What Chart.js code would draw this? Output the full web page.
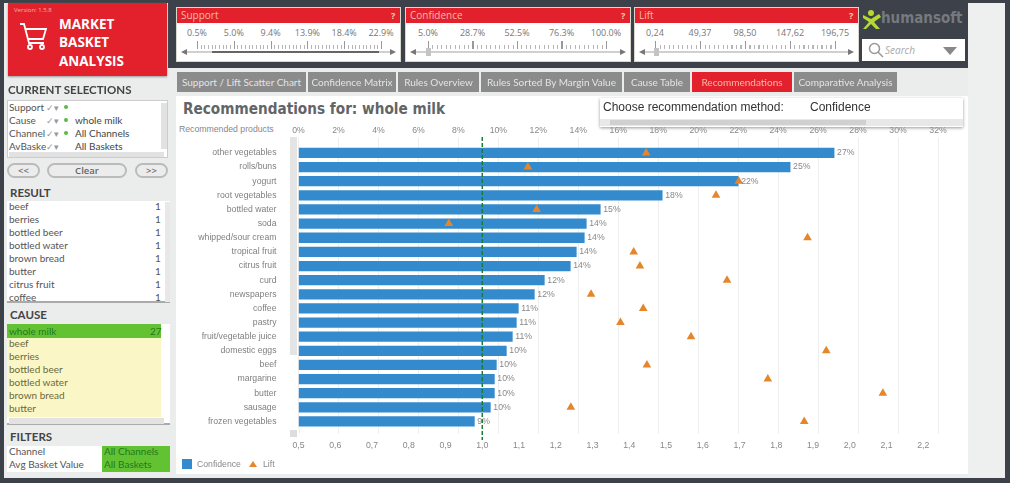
<!DOCTYPE html>
<html>
<head>
<meta charset="utf-8">
<title>Market Basket Analysis</title>
<script src="https://cdn.jsdelivr.net/npm/chart.js@4"></script>
<style>
  html, body { margin: 0; padding: 0; width: 1010px; height: 483px; overflow: hidden; background: #3d4149; }
  body { font-family: "Open Sans", sans-serif; color: #555; position: relative; }
  .a { position: absolute; white-space: nowrap; box-sizing: border-box; }
  .hdr { font-family: Lato, sans-serif; font-weight: 700; font-size: 11.5px; color: #444; }
  .row { font-family: Lato, sans-serif; font-size: 10px; color: #555; line-height: 13px; }
  .tab { background: #8b8b8b; color: #e4e4e4; font-family: Lato, sans-serif; font-size: 10px; text-align: center; line-height: 20px; }
  .sb { background: #dcdcdc; }
  .btn { border: 2px solid #bbb; border-radius: 9px; background: #ececec; font-size: 9.5px; font-weight: 600; text-align: center; line-height: 12px; color: #666; }
  #chart { position: absolute; left: 176px; top: 120px; }
</style>
</head>
<body>
<div class="a" style="left:4px;top:3px;width:964px;height:475px;background:#ebecec"></div>
<div class="a" style="left:968px;top:3px;width:37px;height:475px;background:#eef0f0"></div>
<div class="a" style="left:168px;top:0;width:800px;height:68px;background:#3d4149"></div>
<div class="a" style="left:176px;top:96px;width:792px;height:378px;background:#fff"></div>

<!-- logo -->
<div class="a" style="left:8px;top:3px;width:159px;height:73px;background:#e2212c;box-shadow:0 1px 2px #999"></div>
<div class="a" style="left:14px;top:6px;font-size:6px;color:#f4b8b0">Version: 1.5.8</div>
<svg class="a" style="left:18px;top:22px" width="32" height="30" viewBox="0 0 32 30" fill="none" stroke="#fff" stroke-width="1.8">
  <path d="M2 2h4l5 19h15M7 7h21l-3 10H10"/><circle cx="12" cy="25" r="2"/><circle cx="24" cy="25" r="2"/>
</svg>
<div class="a" style="left:59px;top:15px;font-size:13.5px;font-weight:700;color:#fff;line-height:18.3px">MARKET<br>BASKET<br>ANALYSIS</div>

<!-- humansoft logo -->
<svg class="a" style="left:863px;top:10px" width="18" height="20" viewBox="0 0 18 20" fill="#b4d92f">
  <circle cx="8" cy="3" r="3"/><path d="M0 5l8 4 8-5 2 3-7 5 6 7h-4l-5-5-5 5H0l6-7L0 8z"/>
</svg>
<div class="a" style="left:881px;top:9px;font-size:15.5px;font-weight:700;color:#757a7e;font-family:'DejaVu Sans';transform:scaleX(.87);transform-origin:left">humansoft</div>
<div class="a" style="left:862px;top:39px;width:103px;height:22px;background:#fff"></div>
<svg class="a" style="left:868px;top:42px" width="16" height="16" fill="none" stroke="#999" stroke-width="1.5"><circle cx="6.5" cy="6.5" r="5"/><path d="M10 10l5 5"/></svg>
<div class="a" style="left:885px;top:43px;font-size:10px;font-style:italic;color:#aaa">Search</div>
<svg class="a" style="left:943px;top:47px" width="14" height="8"><path d="M0 0h14l-7 8z" fill="#888"/></svg>

<!-- title -->
<div class="a" style="left:183px;top:100px;font-family:'DejaVu Sans';font-weight:700;font-size:15px;color:#626568;transform:scaleX(.91);transform-origin:left">Recommendations for: whole milk</div>
<div class="a" style="left:179px;top:124px;font-family:'Liberation Sans';font-size:8.7px;color:#888">Recommended products</div>

<canvas id="chart" width="792" height="335"></canvas>

<!-- chart scrollbar -->
<div class="a sb" style="left:290px;top:137px;width:7px;height:218px;background:#e4e4e4"></div>
<div class="a sb" style="left:290px;top:430px;width:7px;height:7px;background:#ddd"></div>

<!-- legend -->
<div class="a" style="left:182px;top:459px;width:10px;height:10px;background:#338bcd"></div>
<div class="a" style="left:197px;top:459px;font-family:'Liberation Sans';font-size:8.7px;color:#888">Confidence</div>
<svg class="a" style="left:249px;top:460px" width="8" height="8"><path d="M4 1l4 6H0z" fill="#e5862c"/></svg>
<div class="a" style="left:263px;top:459px;font-family:'Liberation Sans';font-size:8.7px;color:#888">Lift</div>

<!-- method box -->
<div class="a" style="left:600px;top:98px;width:363px;height:29px;background:#fff;box-shadow:0 1px 3px #999"></div>
<div class="a" style="left:603px;top:100px;font-size:12px;color:#333;font-family:'Liberation Sans'">Choose recommendation method:</div>
<div class="a" style="left:810px;top:100px;font-size:12px;color:#333;font-family:'Liberation Sans'">Confidence</div>
<div class="a" style="left:600px;top:119px;width:363px;height:7px;background:#e8e8e8"></div>
<div class="a" style="left:610px;top:120px;width:256px;height:5px;background:#d0d0d0"></div>

<script>
// chart values
const categories = ["other vegetables", "rolls/buns", "yogurt", "root vegetables", "bottled water", "soda", "whipped/sour cream", "tropical fruit", "citrus fruit", "curd", "newspapers", "coffee", "pastry", "fruit/vegetable juice", "domestic eggs", "beef", "margarine", "butter", "sausage", "frozen vegetables"];
const confidence = [26.8, 24.6, 22.0, 18.2, 15.1, 14.4, 14.3, 13.9, 13.6, 12.3, 11.8, 11.0, 10.9, 10.7, 10.4, 9.9, 9.8, 9.8, 9.6, 8.8];
const lift = [1.446, 1.124, 1.698, 1.636, 1.148, 0.909, 1.885, 1.412, 1.429, 1.666, 1.296, 1.438, 1.376, 1.568, 1.936, 1.448, 1.777, 2.09, 1.241, 1.876];
const liftReference = 1.0;

// dashboard panels
const tabs = ["Support / Lift Scatter Chart", "Confidence Matrix", "Rules Overview", "Rules Sorted By Margin Value", "Cause Table", "Recommendations", "Comparative Analysis"];
const tabEdges = [177, 308, 398, 481, 624, 692, 794, 899];
const supportLabels = ["0.5%", "5.0%", "9.4%", "13.9%", "18.4%", "22.9%"];
const confidenceLabels = ["5.0%", "28.7%", "52.5%", "76.3%", "100.0%"];
const liftLabels = ["0,24", "49,37", "98,50", "147,62", "196,75"];
const selectionNames = ["Support", "Cause", "Channel", "AvBasket"];
const selectionValues = ["", "whole milk", "All Channels", "All Baskets"];
const resultItems = ["beef", "berries", "bottled beer", "bottled water", "brown bread", "butter", "citrus fruit", "coffee"];
const causeItems = ["beef", "berries", "bottled beer", "bottled water", "brown bread", "butter"];

const put = (x, y, w, h, css, text, cls) => {
  const el = document.createElement("div");
  el.className = "a " + (cls || "");
  el.style.cssText = `left:${x}px;top:${y}px;` + (w ? `width:${w}px;` : "") + (h ? `height:${h}px;` : "") + (css || "");
  if (text) el.textContent = text;
  document.body.appendChild(el);
  return el;
};

const drawSlider = (x, w, name, labels, x0, x1, from, to) => {
  put(x, 8, w, 53, "background:#fff;box-shadow:0 0 0 1px #d8d8d0");
  put(x, 8, w, 15, "background:#e2212c;color:#f6b9a8;font-size:10px;line-height:15px;padding-left:4px", name);
  put(x + w - 9, 8, 0, 0, "color:#f6d3a0;font-size:9px;font-weight:700;line-height:15px", "?");
  labels.forEach((t, i) => {
    const cx = x0 + (x1 - x0) * i / (labels.length - 1);
    put(cx - 20, 26, 40, 0, "text-align:center;font-size:9px;color:#777", t);
  });
  const major = (x1 - x0) / (labels.length - 1);
  put(x0, 41, x1 - x0 + 1, 8, `background:repeating-linear-gradient(90deg,#999 0 1px,transparent 1px ${major}px) 0 0/100% 8px no-repeat,repeating-linear-gradient(90deg,#b5b5b5 0 1px,transparent 1px ${major / 10}px) 0 100%/100% 4px no-repeat`);
  put(x + 6, 51, w - 12, 2, "background:#d0d0d0");
  put(x + 4, 49, 0, 0, "border:3px solid transparent;border-right:6px solid #777;border-left:0");
  put(x + w - 10, 49, 0, 0, "border:3px solid transparent;border-left:6px solid #777;border-right:0");
  put(from, 51, to - from, 2, "background:#666");
  if (to - from < 5) put(from - 2, 48, 5, 8, "background:#c4c4c4");
};
drawSlider(177, 223, "Support", supportLabels, 197, 381, 212, 379);
drawSlider(406, 224, "Confidence", confidenceLabels, 428, 606, 428, 430);
drawSlider(635, 223, "Lift", liftLabels, 655, 835, 656, 658);

tabs.forEach((t, i) => {
  const active = t === "Recommendations";
  put(tabEdges[i], 72, tabEdges[i + 1] - tabEdges[i] - 2, 20, active ? "background:#e2212c;color:#f4b9a8" : "", t, "tab");
});

// left column
put(8, 83, 0, 0, "", "CURRENT SELECTIONS", "hdr");
put(7, 100, 161, 58, "background:#fff;border:1px solid #ccc");
selectionNames.forEach((n, i) => {
  const y = 101 + i * 13;
  put(9, y, 37, 13, "overflow:hidden", n, "row");
  put(46, y, 11, 13, "color:#999;font-size:9px", "✓▾", "row");
  if (i < 3) put(64, y + 4, 4, 4, "background:#5cb848;border-radius:50%");
  put(75, y, 0, 13, "color:#444", selectionValues[i], "row");
});
put(9, 152, 155, 5, "background:#e2e2e2");
put(161, 103, 6, 46, "background:#e2e2e2");

put(7, 163, 33, 15, "", "<<", "btn");
put(47, 163, 80, 15, "", "Clear", "btn");
put(135, 163, 33, 15, "", ">>", "btn");

put(10, 186, 0, 0, "", "RESULT", "hdr");
put(7, 201, 163, 102, "background:#fff;border-bottom:2px solid #aaa");
resultItems.forEach((t, i) => {
  const y = 200 + i * 13;
  put(9, y, 0, 13, "", t, "row");
  put(155, y, 0, 13, "", "1", "row");
});
put(165, 202, 5, 100, "background:#e8e8e8");

put(10, 308, 0, 0, "", "CAUSE", "hdr");
put(7, 324, 163, 101, "background:#fff;border-bottom:2px solid #aaa");
put(7, 324, 154, 14, "background:#63c232;color:#1f7a1f;line-height:14px;font-family:Lato;font-size:10px;padding-left:2px", "whole milk");
put(150, 324, 0, 14, "color:#1f7a1f;line-height:14px;font-family:Lato;font-size:10px", "27");
put(7, 338, 154, 79, "background:#fbf6c6");
causeItems.forEach((t, i) => put(9, 337 + i * 13, 0, 13, "color:#6b6a3c", t, "row"));
put(9, 418, 155, 6, "background:#e2e2e2");

put(10, 430, 0, 0, "", "FILTERS", "hdr");
put(7, 446, 163, 26, "background:#fff");
put(102, 446, 68, 26, "background:#63c232");
put(9, 445, 0, 13, "", "Channel", "row");
put(9, 458, 0, 13, "", "Avg Basket Value", "row");
put(104, 445, 0, 13, "color:#1f7a1f", "All Channels", "row");
put(104, 458, 0, 13, "color:#1f7a1f", "All Baskets", "row");

// value labels next to the bars, grid run-out below the plot and the dashed reference line
const barExtras = {
  id: "barExtras",
  beforeDatasetsDraw(chart) {
    const { ctx, scales, chartArea } = chart;
    ctx.save();
    ctx.strokeStyle = "#eeeeee";
    scales.xConf.ticks.forEach((t) => {
      const x = Math.round(scales.xConf.getPixelForValue(t.value)) + 0.5;
      ctx.beginPath();
      ctx.moveTo(x, chartArea.bottom);
      ctx.lineTo(x, chartArea.bottom + 5);
      ctx.stroke();
    });
    ctx.restore();
  },
  afterDatasetsDraw(chart) {
    const { ctx, scales } = chart;
    const bars = chart.getDatasetMeta(0).data;
    ctx.save();
    ctx.font = "8.7px 'Liberation Sans'";
    ctx.fillStyle = "#888";
    ctx.textBaseline = "middle";
    bars.forEach((bar, i) => ctx.fillText(Math.round(confidence[i]) + "%", bar.x + 3, bar.y));
    const x = scales.xLift.getPixelForValue(liftReference);
    ctx.strokeStyle = "#1b7d34";
    ctx.lineWidth = 1.5;
    ctx.setLineDash([4, 2]);
    ctx.beginPath();
    ctx.moveTo(x, 17);
    ctx.lineTo(x, 320);
    ctx.stroke();
    ctx.restore();
  },
};

const axisFont = { family: "'Liberation Sans'", size: 8.7 };

new Chart(document.getElementById("chart"), {
  data: {
    labels: categories,
    datasets: [
      { type: "bar", label: "Confidence", data: confidence, xAxisID: "xConf", yAxisID: "y", backgroundColor: "#338bcd", barThickness: 9.6, order: 2 },
      { type: "line", label: "Lift", data: categories.map((c, i) => ({ x: lift[i], y: c })), xAxisID: "xLift", yAxisID: "y", showLine: false, pointStyle: "triangle", pointRadius: 5, pointBackgroundColor: "#e5862c", pointBorderColor: "#e5862c", pointBorderWidth: 0, order: 1 },
    ],
  },
  options: {
    indexAxis: "y",
    responsive: false,
    animation: false,
    layout: { autoPadding: false, padding: { right: 30 } },
    plugins: { legend: { display: false }, tooltip: { enabled: false } },
    scales: {
      y: {
        offset: true,
        grid: { display: false },
        border: { display: false },
        ticks: { font: axisFont, color: "#808080", padding: 14, autoSkip: false },
        afterFit: (scale) => { scale.width = 122.5; },
      },
      xConf: {
        axis: "x",
        position: "top",
        min: 0,
        max: 32,
        grid: { color: "#eeeeee", tickLength: 8, tickColor: "#eeeeee" },
        border: { display: false },
        ticks: { stepSize: 2, font: axisFont, color: "#888", padding: 2, maxRotation: 0, callback: (v) => v + "%" },
        afterFit: (scale) => { scale.height = 25.9; },
      },
      xLift: {
        axis: "x",
        position: "bottom",
        min: 0.5,
        max: 2.24,
        grid: { display: false },
        border: { display: false },
        ticks: { stepSize: 0.1, includeBounds: false, font: axisFont, color: "#888", padding: 4, maxRotation: 0, autoSkip: false, callback: (v) => v.toFixed(1).replace(".", ",") },
        afterFit: (scale) => { scale.height = 26.5; },
      },
    },
  },
  plugins: [barExtras],
});
</script>
</body>
</html>
